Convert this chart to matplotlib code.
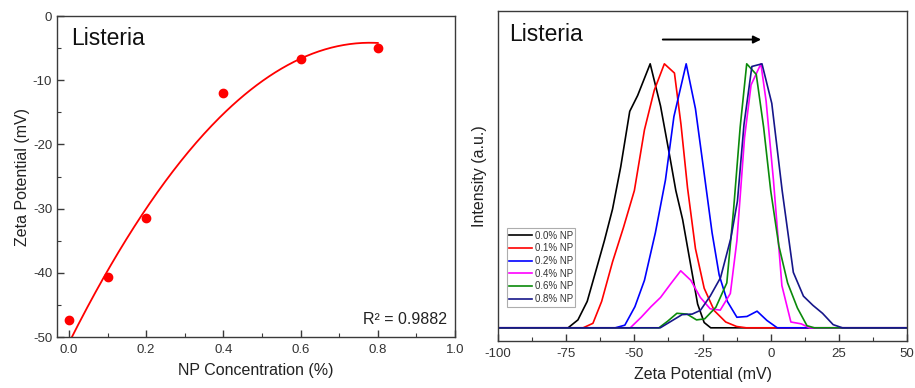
import numpy as np
import matplotlib
matplotlib.use('Agg')
import matplotlib.pyplot as plt
from matplotlib.ticker import MultipleLocator, FormatStrFormatter

plt.rcParams['font.family'] = ['Liberation Sans', 'DejaVu Sans']
plt.rcParams['axes.unicode_minus'] = False

# zeta potential vs NP concentration (left)
np_conc = [0.0, 0.1, 0.2, 0.4, 0.6, 0.8]
zeta_mean = [-47.3, -40.7, -31.4, -12.0, -6.7, -5.0]
# quadratic fit coefficients (highest order first) and its R^2
fit_coef = [-77.0, 120.0, -50.9]
r2_text = 'R\u00b2 = 0.9882'

# zeta distributions (right), one x/y pair per concentration
zeta_00 = [-100, -74.3, -70.7, -67.3, -64.0, -61.0, -58.0, -55.0, -51.7, -48.8, -44.2, -40.4, -37.2, -34.8, -32.3, -29.9, -26.8, -24.4, -22.0, 50]
int_00 = [0, 0, 0.03, 0.10, 0.22, 0.33, 0.45, 0.61, 0.82, 0.88, 1.0, 0.84, 0.66, 0.52, 0.41, 0.27, 0.09, 0.02, 0, 0]

zeta_01 = [-100, -68.8, -65.2, -62.0, -58.0, -54.0, -50.0, -46.3, -42.7, -39.0, -35.3, -32.9, -30.5, -27.6, -24.4, -20.7, -16.5, -12.5, -9.0, 50]
int_01 = [0, 0, 0.017, 0.10, 0.25, 0.38, 0.52, 0.75, 0.90, 1.0, 0.965, 0.77, 0.53, 0.30, 0.15, 0.065, 0.022, 0.005, 0, 0]

zeta_02 = [-100, -57.0, -53.5, -49.8, -46.3, -42.3, -38.6, -35.5, -31.0, -27.6, -24.6, -21.5, -18.9, -15.9, -12.4, -8.7, -5.0, -1.4, 2.4, 50]
int_02 = [0, 0, 0.01, 0.08, 0.18, 0.36, 0.56, 0.80, 1.0, 0.83, 0.60, 0.36, 0.20, 0.10, 0.04, 0.043, 0.063, 0.028, 0, 0]

zeta_04 = [-100, -51.5, -47.5, -43.9, -40.4, -36.8, -33.0, -29.3, -25.8, -22.2, -18.5, -14.8, -12.4, -9.6, -7.2, -3.6, -1.7, 1.0, 4.1, 7.4, 11.2, 14.2, 50]
int_04 = [0, 0, 0.04, 0.08, 0.115, 0.165, 0.216, 0.18, 0.115, 0.072, 0.067, 0.13, 0.33, 0.72, 0.92, 1.0, 0.86, 0.56, 0.16, 0.022, 0.015, 0, 0]

zeta_06 = [-100, -41.0, -37.8, -34.4, -30.7, -27.2, -24.2, -20.1, -16.1, -13.6, -11.2, -8.8, -5.3, -2.6, 0.0, 3.0, 6.2, 9.8, 13.3, 16.0, 50]
int_06 = [0, 0, 0.025, 0.055, 0.052, 0.03, 0.034, 0.078, 0.17, 0.45, 0.76, 1.0, 0.96, 0.76, 0.52, 0.31, 0.17, 0.075, 0.008, 0, 0]

zeta_08 = [-100, -40.5, -36.5, -32.5, -28.8, -25.8, -22.2, -18.4, -14.6, -12.2, -9.8, -6.9, -3.2, 0.4, 4.2, 8.3, 12.0, 15.5, 19.0, 22.9, 26.3, 50]
int_08 = [0, 0, 0.025, 0.05, 0.052, 0.066, 0.12, 0.19, 0.34, 0.48, 0.77, 0.99, 1.0, 0.85, 0.52, 0.21, 0.12, 0.085, 0.055, 0.012, 0, 0]

dist_labels = ['0.0% NP', '0.1% NP', '0.2% NP', '0.4% NP', '0.6% NP', '0.8% NP']
dist_colors = ['black', '#ff0000', '#0000ff', '#ff00ff', '#0a8a0a', '#16168a']

spine_col = '#3a3a3a'
text_col = '#222222'

fig = plt.figure(figsize=(9.15, 3.88), dpi=100)
ax1 = fig.add_axes([0.0623, 0.1314, 0.435, 0.827])
ax2 = fig.add_axes([0.5443, 0.1211, 0.447, 0.8505])

# left panel: points + fitted curve
xf = np.linspace(0, 0.8, 200)
ax1.plot(xf, np.polyval(fit_coef, xf), color='#ff0000', lw=1.3)
ax1.plot(np_conc, zeta_mean, 'o', color='#ff0000', ms=6, mec='#ff0000')
ax1.set_xlim(-0.031, 1.0)
ax1.set_ylim(-50, 0)
ax1.xaxis.set_major_locator(MultipleLocator(0.2))
ax1.xaxis.set_minor_locator(MultipleLocator(0.1))
ax1.yaxis.set_major_locator(MultipleLocator(10))
ax1.yaxis.set_minor_locator(MultipleLocator(5))
ax1.xaxis.set_major_formatter(FormatStrFormatter('%.1f'))
ax1.set_xlabel('NP Concentration (%)', fontsize=11.5, color=text_col, labelpad=5)
ax1.set_ylabel('Zeta Potential (mV)', fontsize=11.5, color=text_col, labelpad=2)
ax1.text(0.035, 0.91, 'Listeria', transform=ax1.transAxes, fontsize=16.5, va='baseline', color='#111111')
ax1.text(0.98, 0.04, r2_text, transform=ax1.transAxes, fontsize=11.5, ha='right', va='baseline', color=text_col)

# right panel: distributions
series = [(zeta_00, int_00), (zeta_01, int_01), (zeta_02, int_02),
          (zeta_04, int_04), (zeta_06, int_06), (zeta_08, int_08)]
for (zx, zy), lab, col in zip(series, dist_labels, dist_colors):
    ax2.plot(zx, zy, color=col, lw=1.2, label=lab)
ax2.set_xlim(-100, 50)
ax2.set_ylim(-0.05, 1.2)
ax2.xaxis.set_major_locator(MultipleLocator(25))
ax2.xaxis.set_minor_locator(MultipleLocator(12.5))
ax2.set_yticks([])
ax2.set_xlabel('Zeta Potential (mV)', fontsize=11.5, color=text_col, labelpad=5)
ax2.set_ylabel('Intensity (a.u.)', fontsize=11.5, color=text_col, labelpad=8)
ax2.text(0.027, 0.909, 'Listeria', transform=ax2.transAxes, fontsize=16.5, va='baseline', color='#111111')
ax2.annotate('', xy=(-2.5, 1.092), xytext=(-40.6, 1.092),
             arrowprops=dict(arrowstyle='-|>', color='black', lw=1.4, mutation_scale=11))
leg = ax2.legend(loc='upper left', bbox_to_anchor=(0.022, 0.342), fontsize=7,
                 frameon=True, fancybox=False, borderaxespad=0, handlelength=2.3,
                 labelspacing=0.28, borderpad=0.25, handletextpad=0.3)
leg.get_frame().set_edgecolor('#999999')
leg.get_frame().set_linewidth(0.8)
for t in leg.get_texts():
    t.set_color('#333333')

for ax in (ax1, ax2):
    for s in ax.spines.values():
        s.set_color(spine_col)
        s.set_linewidth(1.0)
    ax.tick_params(which='both', direction='in', top=False, right=False,
                   colors=spine_col, labelcolor='#333333', labelsize=9.5)
    ax.tick_params(which='major', length=5, width=1.0)
    ax.tick_params(which='minor', length=3, width=0.8)
ax1.tick_params(axis='x', pad=5)
ax2.tick_params(axis='x', pad=5)

fig.savefig('out.png', dpi=100)
